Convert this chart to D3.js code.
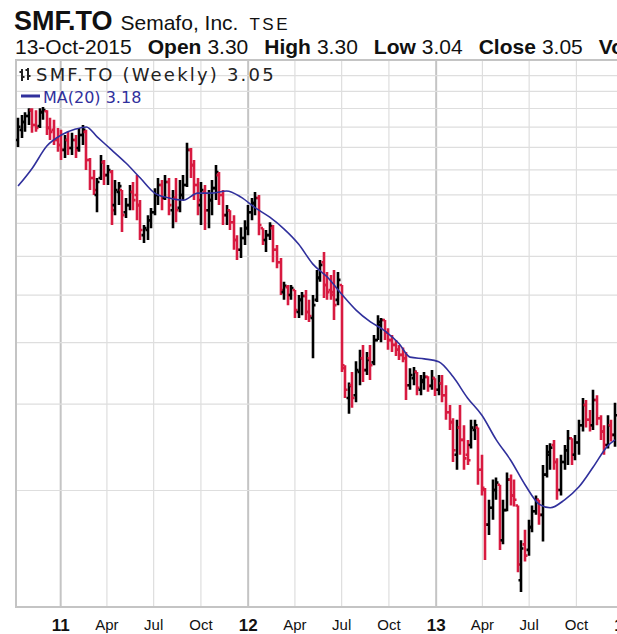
<!DOCTYPE html>
<html>
<head>
<meta charset="utf-8">
<script src="https://cdnjs.cloudflare.com/ajax/libs/d3/7.8.5/d3.min.js"></script>
<style>
  body { margin: 0; background: #fff; }
  svg { display: block; }
</style>
</head>
<body>
<svg id="chart"></svg>
<script>
let w = 617;
let h = 634;

// weekly bars, one per week starting Monday 11-Oct-2010
let firstWeek = new Date(2010, 9, 11);

let opens = [
  10.33, 10.83, 11.24, 11.56, 11.88, 11.08, 11.03, 11.77, 11.82, 10.93,
  10.83, 10.33, 10.09, 9.86, 10.33, 9.95, 10.33, 9.95, 10.57, 10.73,
  9.40, 8.64, 7.98, 8.64, 9.31, 8.76, 8.89, 7.61, 8.09, 8.17,
  7.36, 7.61, 8.09, 7.98, 7.61, 6.61, 6.77, 7.09, 7.36, 7.98,
  8.36, 7.87, 8.48, 7.43, 7.87, 7.51, 7.98, 8.36, 9.86, 9.18,
  8.36, 7.61, 8.09, 7.43, 7.79, 8.24, 8.76, 7.98, 7.26, 7.43,
  7.02, 6.46, 6.17, 6.52, 6.83, 7.36, 7.68, 7.87, 6.83, 6.46,
  6.61, 6.83, 6.17, 5.82, 5.06, 5.18, 4.99, 5.11, 4.61, 4.88,
  4.97, 4.61, 4.48, 4.88, 5.41, 5.82, 5.23, 5.11, 5.06, 4.88,
  5.23, 3.54, 3.08, 3.27, 3.12, 3.48, 3.71, 3.51, 3.71, 3.64,
  4.04, 4.34, 4.44, 4.19, 4.04, 3.95, 3.86, 3.77, 3.71, 3.27,
  3.38, 3.48, 3.20, 3.32, 3.40, 3.26, 3.38, 3.20, 3.30, 3.12,
  2.88, 2.75, 2.36, 2.68, 2.53, 2.36, 2.47, 2.65, 2.68, 2.20,
  2.00, 1.70, 1.84, 2.00, 2.05, 1.58, 1.82, 2.10, 1.95, 1.86,
  1.31, 1.55, 1.51, 1.68, 1.81, 1.91, 1.78, 2.15, 2.36, 2.47,
  2.28, 2.00, 2.28, 2.41, 2.55, 2.36, 2.50, 2.71, 2.98, 2.78,
  2.71, 3.05, 2.80, 2.63, 2.47, 2.71, 2.59
];
let highs = [
  11.46, 11.61, 11.77, 11.99, 11.99, 11.88, 11.99, 12.05, 11.88, 11.46,
  11.35, 10.93, 10.83, 10.57, 10.73, 10.68, 10.57, 10.93, 11.08, 10.83,
  9.49, 8.97, 8.64, 9.63, 9.40, 9.18, 8.97, 8.56, 8.48, 8.17,
  7.87, 8.36, 8.48, 8.76, 7.79, 6.93, 7.26, 7.51, 8.24, 8.64,
  8.56, 8.76, 8.64, 8.17, 8.64, 8.56, 8.76, 10.19, 9.95, 9.40,
  8.64, 8.48, 8.36, 8.17, 8.56, 9.18, 8.89, 8.17, 7.61, 7.43,
  7.26, 6.61, 6.86, 7.09, 7.61, 7.87, 8.09, 7.98, 6.83, 6.77,
  7.02, 6.93, 6.31, 5.94, 5.31, 5.23, 5.23, 5.11, 4.99, 5.06,
  5.11, 4.88, 4.99, 5.61, 5.88, 6.11, 5.56, 5.48, 5.61, 5.56,
  5.23, 3.59, 3.31, 3.48, 3.66, 3.86, 3.95, 3.82, 3.95, 4.14,
  4.54, 4.48, 4.44, 4.27, 4.14, 4.04, 3.95, 3.90, 3.82, 3.54,
  3.56, 3.48, 3.43, 3.48, 3.41, 3.51, 3.38, 3.43, 3.43, 3.27,
  2.98, 2.80, 2.78, 2.98, 2.71, 2.53, 2.78, 2.78, 2.68, 2.36,
  2.02, 1.91, 2.10, 2.12, 2.05, 1.91, 2.17, 2.15, 2.10, 1.86,
  1.58, 1.66, 1.74, 1.86, 1.95, 1.91, 2.25, 2.47, 2.49, 2.53,
  2.32, 2.36, 2.47, 2.65, 2.55, 2.59, 2.78, 3.08, 3.05, 2.91,
  3.20, 3.12, 2.84, 2.71, 2.84, 2.78, 3.01
];
let lows = [
  9.99, 10.43, 10.73, 11.08, 10.68, 10.73, 10.93, 11.35, 10.57, 10.33,
  10.09, 9.77, 9.40, 9.49, 9.63, 9.63, 9.49, 9.77, 10.09, 8.97,
  8.17, 7.98, 7.36, 8.56, 8.36, 8.36, 6.93, 7.26, 7.61, 6.71,
  7.16, 7.43, 7.43, 7.09, 6.46, 6.37, 6.46, 6.83, 7.26, 7.61,
  7.43, 7.79, 7.26, 6.83, 7.02, 7.36, 7.79, 8.28, 8.64, 7.79,
  7.26, 6.93, 6.77, 6.83, 7.26, 7.79, 7.61, 6.93, 6.93, 6.77,
  6.17, 5.88, 5.94, 6.31, 6.61, 7.09, 7.26, 6.61, 6.31, 6.11,
  6.46, 5.82, 5.66, 4.99, 4.88, 4.76, 4.88, 4.48, 4.48, 4.54,
  4.44, 4.40, 3.71, 4.83, 5.31, 4.92, 4.88, 4.88, 4.44, 4.76,
  3.48, 3.08, 2.86, 2.94, 3.02, 3.27, 3.32, 3.43, 3.35, 3.59,
  4.04, 4.00, 4.04, 3.86, 3.82, 3.75, 3.68, 3.64, 3.05, 3.20,
  3.27, 3.12, 3.12, 3.20, 3.17, 3.20, 3.11, 3.12, 3.02, 2.78,
  2.65, 2.28, 2.20, 2.36, 2.20, 2.25, 2.43, 2.53, 2.05, 1.95,
  1.44, 1.62, 1.74, 1.91, 1.51, 1.55, 1.81, 1.86, 1.85, 1.36,
  1.24, 1.43, 1.47, 1.64, 1.78, 1.70, 1.57, 2.12, 2.20, 2.20,
  1.91, 1.95, 2.20, 2.25, 2.25, 2.30, 2.36, 2.63, 2.68, 2.63,
  2.65, 2.71, 2.53, 2.36, 2.43, 2.51, 2.45
];
let closes = [
  10.99, 11.24, 11.56, 11.88, 11.08, 10.93, 11.77, 11.88, 10.93, 10.73,
  10.33, 10.09, 9.86, 10.33, 9.95, 10.33, 9.86, 10.57, 10.83, 9.40,
  8.64, 8.17, 8.48, 9.31, 8.76, 8.97, 7.43, 8.17, 8.32, 7.26,
  7.61, 8.09, 7.79, 7.61, 6.77, 6.83, 7.09, 7.36, 7.98, 8.36,
  7.87, 8.48, 7.61, 7.87, 7.43, 7.98, 8.36, 9.86, 9.18, 8.36,
  7.79, 8.17, 7.43, 7.79, 8.24, 8.89, 7.98, 7.26, 7.43, 7.02,
  6.46, 6.17, 6.52, 6.83, 7.36, 7.68, 7.87, 6.93, 6.46, 6.61,
  6.90, 6.17, 5.82, 5.11, 5.21, 4.99, 5.16, 4.65, 4.88, 4.97,
  4.61, 4.52, 4.76, 5.41, 5.75, 5.23, 5.06, 4.99, 4.76, 5.36,
  3.59, 3.20, 3.26, 3.08, 3.51, 3.71, 3.51, 3.68, 3.59, 4.04,
  4.40, 4.44, 4.19, 4.04, 3.95, 3.86, 3.77, 3.71, 3.27, 3.43,
  3.48, 3.23, 3.35, 3.40, 3.26, 3.38, 3.20, 3.30, 3.12, 2.88,
  2.75, 2.41, 2.68, 2.53, 2.32, 2.30, 2.68, 2.71, 2.20, 2.02,
  1.70, 1.84, 2.00, 2.07, 1.58, 1.82, 2.10, 1.95, 1.91, 1.41,
  1.52, 1.47, 1.68, 1.81, 1.91, 1.78, 2.15, 2.39, 2.44, 2.28,
  2.00, 2.28, 2.41, 2.55, 2.36, 2.50, 2.71, 2.98, 2.78, 2.71,
  3.05, 2.80, 2.63, 2.47, 2.71, 2.59, 2.84
];

// MA(20) at some weeks (index into the weekly bars)
let maWeek = [0, 4, 8, 12, 16, 19, 22, 26, 30, 34, 38, 42, 46, 50, 54, 58, 62, 66, 70, 74,
  78, 82, 86, 90, 94, 98, 102, 106, 109, 113, 117, 121, 125, 129, 133, 137, 141, 145, 148, 152,
  156, 160, 164, 166];
let maValues = [8.32, 9.06, 10.04, 10.57, 10.87, 10.98, 10.48, 9.86, 9.27, 8.64, 8.05, 7.87, 7.79, 8.05, 8.05, 8.13, 7.90, 7.51, 7.19, 6.80,
  6.34, 5.77, 5.43, 5.01, 4.65, 4.40, 4.22, 3.97, 3.73, 3.70, 3.65, 3.40, 3.08, 2.84, 2.53, 2.30, 2.05, 1.87, 1.84, 1.91,
  2.03, 2.23, 2.46, 2.53];

let priceGrid = [2, 3, 4, 5, 6, 7, 8, 9, 10, 11, 12, 13, 14];
let xTickLabels = ['11', 'Apr', 'Jul', 'Oct', '12', 'Apr', 'Jul', 'Oct', '13', 'Apr', 'Jul', 'Oct', '14'];

let headerLabels = ['Open', 'High', 'Low', 'Close', 'Volume'];
let headerValues = ['3.30', '3.30', '3.04', '3.05', ''];

const plotLeft = 16, plotTop = 60, plotBottom = 607;
const upColor = '#000', downColor = '#d81a40', maColor = '#30309c';

const weeks = closes.map((c, i) => {
  return {
    date: d3.timeWeek.offset(firstWeek, i),
    open: opens[i], high: highs[i], low: lows[i], close: c,
    up: c >= (i > 0 ? closes[i - 1] : opens[i])
  }
});

const chart = d3.select('#chart')
  .attr('width', w)
  .attr('height', h)
  .style('font-family', '"Liberation Sans", Arial, sans-serif');

const xScale = d3.scaleTime()
  .domain([new Date(2010, 9, 7), new Date(2013, 11, 20)])
  .range([plotLeft, w]);

const yScale = d3.scaleLog()
  .domain([1.1553, 15.03])
  .range([plotBottom, plotTop]);

chart.append('clipPath').attr('id', 'plotClip')
  .append('rect')
  .attr('x', plotLeft).attr('y', plotTop)
  .attr('width', w - plotLeft).attr('height', plotBottom - plotTop);

// grid
const tickDates = d3.timeMonth.every(3).range(new Date(2011, 0, 1), new Date(2014, 0, 2));

chart.append('g')
  .attr('transform', `translate(0,${plotBottom})`)
  .call(d3.axisBottom(xScale).tickValues(tickDates).tickSize(-(plotBottom - plotTop)).tickFormat(''))
  .call(g => g.select('.domain').remove())
  .call(g => g.selectAll('.tick line')
    .attr('stroke', d => d.getMonth() === 0 ? '#c4c4c4' : '#dedede')
    .attr('stroke-width', d => d.getMonth() === 0 ? 2 : 1.2));

chart.append('g')
  .attr('transform', `translate(${plotLeft},0)`)
  .call(d3.axisLeft(yScale).tickValues(priceGrid).tickSize(-(w - plotLeft)).tickFormat(''))
  .call(g => g.select('.domain').remove())
  .call(g => g.selectAll('.tick line').attr('stroke', '#dedede').attr('stroke-width', 1.2));

// frame
chart.append('path')
  .attr('d', `M${w},${plotTop}H${plotLeft}V${plotBottom}H${w}`)
  .attr('fill', 'none')
  .attr('stroke', '#c4c4c4')
  .attr('stroke-width', 2);

// x labels
chart.append('g')
  .attr('transform', `translate(0,${plotBottom + 6})`)
  .call(d3.axisBottom(xScale).tickValues(tickDates).tickSize(0)
    .tickFormat((d, i) => xTickLabels[i]))
  .call(g => g.select('.domain').remove())
  .call(g => g.selectAll('text')
    .attr('fill', '#111')
    .attr('dy', '0.9em')
    .style('font-family', '"Liberation Sans", Arial, sans-serif')
    .style('font-size', d => d.getMonth() === 0 ? '17px' : '15px')
    .style('font-weight', d => d.getMonth() === 0 ? 'bold' : 'normal'));

// bars
const plot = chart.append('g').attr('clip-path', 'url(#plotClip)');

plot.selectAll('path.bar')
  .data(weeks)
  .join('path')
  .attr('class', 'bar')
  .attr('d', d => {
    const x = Math.round(xScale(d.date));
    return `M${x},${yScale(d.high)}V${yScale(d.low)}` +
      `M${x - 2.5},${yScale(d.open)}H${x}M${x},${yScale(d.close)}H${x + 2.5}`;
  })
  .attr('fill', 'none')
  .attr('stroke', d => d.up ? upColor : downColor)
  .attr('stroke-width', 2.6);

// moving average
const maLine = d3.line()
  .x(d => xScale(weeks[d[0]].date))
  .y(d => yScale(d[1]))
  .curve(d3.curveMonotoneX);

plot.append('path')
  .datum(maWeek.map((k, i) => [k, maValues[i]]))
  .attr('d', maLine)
  .attr('fill', 'none')
  .attr('stroke', maColor)
  .attr('stroke-width', 1.6);

// legend
const legend = chart.append('g').style('font-family', '"DejaVu Sans", Verdana, sans-serif');

legend.append('path')
  .attr('d', 'M22,69V81M19.5,72H22M22,77H24.5M28,68V80M25.5,70H28M28,76H30.5')
  .attr('stroke', '#222')
  .attr('stroke-width', 2)
  .attr('fill', 'none');

legend.append('text')
  .attr('x', 36).attr('y', 81)
  .attr('font-size', 18)
  .attr('letter-spacing', 2.2)
  .attr('fill', '#222')
  .text('SMF.TO (Weekly) 3.05');

legend.append('line')
  .attr('x1', 21).attr('x2', 40)
  .attr('y1', 96).attr('y2', 96)
  .attr('stroke', maColor)
  .attr('stroke-width', 3);

legend.append('text')
  .attr('x', 43).attr('y', 103)
  .attr('font-size', 16)
  .attr('fill', maColor)
  .text('MA(20) 3.18');

// header
const title = chart.append('text')
  .attr('x', 14).attr('y', 30)
  .attr('fill', '#111');
title.append('tspan').attr('font-size', 27).attr('font-weight', 'bold').text('SMF.TO');
title.append('tspan').attr('dx', 8).attr('font-size', 21).text('Semafo, Inc.');
title.append('tspan').attr('dx', 11).attr('font-size', 17).attr('letter-spacing', 2.5).text('TSE');

const info = chart.append('text')
  .attr('x', 15).attr('y', 54)
  .attr('font-size', 21)
  .attr('fill', '#111');
info.append('tspan').text('13-Oct-2015');
headerLabels.forEach((lab, i) => {
  info.append('tspan').attr('dx', 16).attr('font-weight', 'bold').text(lab);
  if (headerValues[i]) info.append('tspan').attr('dx', 6).text(headerValues[i]);
});
</script>
</body>
</html>
